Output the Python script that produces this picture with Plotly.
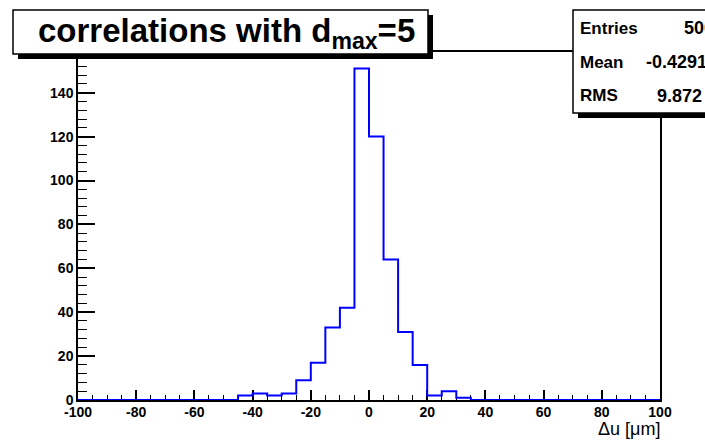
import plotly.graph_objects as go

# ---- data ----
bin_edges = [-100 + 5 * i for i in range(41)]
counts = [0] * 11 + [2, 3, 2, 3, 9, 17, 33, 42, 151, 120, 64, 31, 16, 2, 4, 1] + [0] * 13
x_ticks = [-100, -80, -60, -40, -20, 0, 20, 40, 60, 80, 100]
x_tick_labels = ["-100", "-80", "-60", "-40", "-20", "0", "20", "40", "60", "80", "100"]
y_ticks = [0, 20, 40, 60, 80, 100, 120, 140]
y_tick_labels = ["0", "20", "40", "60", "80", "100", "120", "140"]
stat_labels = ["Entries", "Mean", "RMS"]
stat_values = ["500", "-0.4291", "9.872"]
title_text = "correlations with d<sub>max</sub>=5"
x_title = "\u0394u [\u03bcm]"

W, H = 705, 442
L, R, T, B = 78, 660, 52, 400
FONT = "Liberation Sans"


def px(x):
    return (x - L) / (R - L)


def py(y):
    return (B - y) / (B - T)


fig = go.Figure()
fig.add_trace(go.Scatter(
    x=bin_edges,
    y=counts + [counts[-1]],
    mode="lines",
    line=dict(shape="hv", color="#0000ff", width=2),
    hoverinfo="skip",
    showlegend=False,
))

axis_common = dict(
    showgrid=False, zeroline=False, showline=True, linecolor="black",
    linewidth=1.5, mirror=True, ticks="inside", tickcolor="black",
    layer="below traces",
    tickfont=dict(family=FONT, size=14, color="black", weight="bold"),
)

fig.update_layout(
    width=W, height=H,
    margin=dict(l=L, r=W - R, t=T, b=H - B),
    paper_bgcolor="white", plot_bgcolor="white",
    xaxis=dict(range=[-100, 100], tickvals=x_ticks, ticktext=x_tick_labels,
               ticklen=10, tickwidth=1.5, ticklabelstandoff=-2,
               minor=dict(dtick=5, ticklen=5, ticks="inside", tickcolor="black", tickwidth=1),
               **axis_common),
    yaxis=dict(range=[0, 151 * 1.05], tickvals=y_ticks, ticktext=y_tick_labels,
               ticklen=17, tickwidth=1.5,
               minor=dict(dtick=4, ticklen=9, ticks="inside", tickcolor="black", tickwidth=1),
               **axis_common),
)

shapes = [
    # title box shadow + box
    dict(type="rect", xref="paper", yref="paper", x0=px(18), x1=px(433), y0=py(59), y1=py(15),
         fillcolor="black", line=dict(width=0), layer="above"),
    dict(type="rect", xref="paper", yref="paper", x0=px(13), x1=px(428), y0=py(54), y1=py(10),
         fillcolor="white", line=dict(color="black", width=1.5), layer="above"),
    # stats box shadow + box
    dict(type="rect", xref="paper", yref="paper", x0=px(578), x1=px(725), y0=py(118), y1=py(15),
         fillcolor="black", line=dict(width=0), layer="above"),
    dict(type="rect", xref="paper", yref="paper", x0=px(573), x1=px(720), y0=py(113), y1=py(10),
         fillcolor="white", line=dict(color="black", width=1.5), layer="above"),
]
fig.update_layout(shapes=shapes)

ann = []
ann.append(dict(xref="paper", yref="paper", x=px(226), y=py(33), xanchor="center", yanchor="middle",
                text=title_text, showarrow=False,
                font=dict(family=FONT, size=33, color="black", weight="bold")))
stat_y = [28, 62, 96]
stat_vx = [682, 644, 655]
for lab, val, yy, vx in zip(stat_labels, stat_values, stat_y, stat_vx):
    ann.append(dict(xref="paper", yref="paper", x=px(578), y=py(yy), xanchor="left", yanchor="middle",
                    text=lab, showarrow=False,
                    font=dict(family=FONT, size=17, color="black", weight="bold")))
    ann.append(dict(xref="paper", yref="paper", x=px(vx), y=py(yy), xanchor="left", yanchor="middle",
                    text=val, showarrow=False,
                    font=dict(family=FONT, size=18, color="black", weight="bold")))
ann.append(dict(xref="paper", yref="paper", x=px(662), y=py(429), xanchor="right", yanchor="middle",
                text=x_title, showarrow=False,
                font=dict(family=FONT, size=18, color="black")))
fig.update_layout(annotations=ann)

fig.write_html("out.html", config={"displayModeBar": False},
               post_script="document.body.style.margin='0px';")
